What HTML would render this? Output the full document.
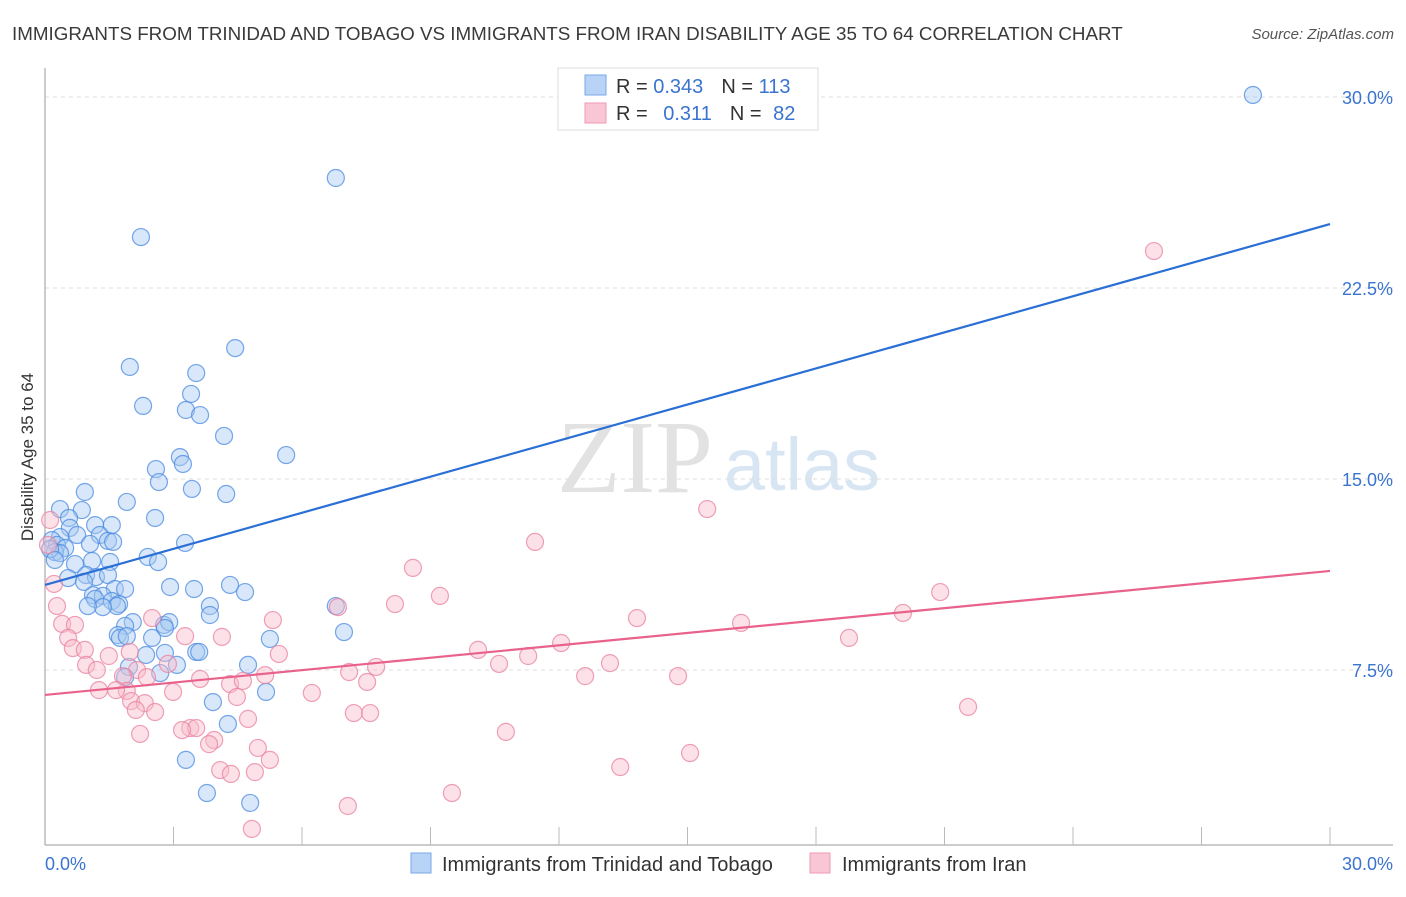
<!DOCTYPE html>
<html><head><meta charset="utf-8"><style>
body{margin:0;background:#fff;font-family:"Liberation Sans",sans-serif;}
</style></head><body>
<svg id="chart" width="1406" height="892" viewBox="0 0 1406 892" xmlns="http://www.w3.org/2000/svg" font-family="Liberation Sans, sans-serif">
<text x="12" y="40" font-size="18.8" fill="#3a3a3a">IMMIGRANTS FROM TRINIDAD AND TOBAGO VS IMMIGRANTS FROM IRAN DISABILITY AGE 35 TO 64 CORRELATION CHART</text>
<text x="1394" y="39" font-size="15" fill="#555" font-style="italic" text-anchor="end">Source: ZipAtlas.com</text>
<g>
<text x="635" y="492" font-size="104" font-family="Liberation Serif, serif" fill="#e2e2e2" text-anchor="middle">ZIP</text>
<text x="802" y="490" font-size="74" fill="#d8e6f4" text-anchor="middle">atlas</text>
</g>
<g id="grid"></g>
<g id="axes"></g>
<g id="marks"></g>
<text transform="translate(33,457) rotate(-90)" font-size="17" fill="#333" text-anchor="middle">Disability Age 35 to 64</text>
<g>
<rect x="558" y="68" width="260" height="62" fill="#fff" stroke="#ddd"/>
<rect x="585" y="75" width="21" height="20" fill="#b8d3f5" stroke="#7aaae8"/>
<rect x="585" y="103" width="21" height="20" fill="#f9c6d5" stroke="#ee9ab3"/>
<text x="616" y="93" font-size="20" fill="#333">R = <tspan fill="#3a74cf">0.343</tspan><tspan dx="18">N = </tspan><tspan fill="#3a74cf">113</tspan></text>
<text x="616" y="120" font-size="20" fill="#333">R = <tspan dx="10" fill="#3a74cf">0.311</tspan><tspan dx="18">N = </tspan><tspan dx="6" fill="#3a74cf">82</tspan></text>
</g>
<g>
<rect x="411" y="853" width="20" height="20" fill="#b8d3f5" stroke="#7aaae8"/>
<text x="442" y="871" font-size="20" fill="#333">Immigrants from Trinidad and Tobago</text>
<rect x="810" y="853" width="20" height="20" fill="#f9c6d5" stroke="#ee9ab3"/>
<text x="842" y="871" font-size="20" fill="#333">Immigrants from Iran</text>
</g>
</svg>
<script>
const blueX=[28.20,6.79,2.24,1.98,4.44,3.53,2.29,3.41,3.29,3.62,4.18,3.15,2.59,3.22,2.66,3.43,4.23,5.63,0.93,1.91,0.35,0.86,0.56,2.57,1.17,1.56,0.58,0.35,0.75,1.28,3.27,1.47,1.59,1.05,0.16,0.28,0.47,0.23,0.35,0.12,2.40,2.64,0.70,1.52,1.10,0.23,0.54,0.96,1.19,1.47,0.91,1.63,1.87,1.12,1.35,1.17,2.92,3.48,4.32,4.67,1.56,1.73,1.68,1.35,1.00,3.85,3.85,6.79,2.05,1.87,2.78,2.90,2.80,1.70,1.75,1.91,2.50,3.53,3.60,5.25,6.98,2.80,2.36,1.96,1.87,3.08,4.74,2.69,5.16,3.92,4.27,3.29,3.78,4.79];
const blueY=[30.08,26.82,24.50,19.40,20.14,19.16,17.87,18.34,17.71,17.51,16.69,15.86,15.39,15.59,14.88,14.61,14.41,15.94,14.49,14.10,13.82,13.78,13.47,13.47,13.19,13.19,13.08,12.72,12.80,12.80,12.49,12.57,12.53,12.45,12.60,12.41,12.29,12.13,12.09,12.25,11.94,11.74,11.66,11.74,11.78,11.82,11.11,11.23,11.15,11.23,10.96,10.68,10.68,10.44,10.41,10.29,10.76,10.68,10.84,10.56,10.21,10.09,10.01,9.97,10.01,10.01,9.66,10.01,9.38,9.23,9.27,9.38,9.15,8.87,8.76,8.83,8.76,8.21,8.21,8.72,8.99,8.17,8.09,7.62,7.22,7.70,7.70,7.38,6.64,6.24,5.38,3.97,2.67,2.28];
const pinkX=[25.89,15.46,11.44,8.59,9.22,8.17,5.32,6.84,13.82,16.25,20.90,20.03,18.77,12.05,2.50,3.27,4.13,0.21,0.28,0.40,0.70,0.54,0.65,0.93,0.96,1.21,1.49,1.98,2.15,2.87,1.82,2.38,1.91,1.26,1.66,2.99,3.62,4.32,4.62,5.14,5.46,4.48,6.23,7.10,7.73,7.52,10.11,10.60,11.28,12.61,13.19,14.78,2.01,2.33,2.12,2.57,3.39,3.53,3.20,4.74,7.21,7.59,10.76,3.95,3.83,2.22,4.97,5.25,4.09,4.34,4.90,13.43,15.06,9.50,7.07,4.83,21.55,0.12,0.07];
const pinkY=[23.95,13.82,12.53,11.51,10.41,10.09,9.46,9.97,9.54,9.35,10.56,9.74,8.76,8.56,9.54,8.83,8.80,10.88,10.01,9.31,9.27,8.76,8.36,8.29,7.70,7.50,8.05,8.21,7.50,7.74,7.26,7.22,6.68,6.71,6.71,6.64,7.15,6.95,7.07,7.30,8.13,6.44,6.60,7.42,7.62,7.03,8.29,7.74,8.05,7.26,7.77,7.26,6.28,6.20,5.93,5.85,5.22,5.22,5.14,5.58,5.81,5.81,5.07,4.75,4.59,4.99,4.44,3.97,3.57,3.42,3.49,3.69,4.24,2.67,2.16,1.26,6.05,13.39,12.41];
const blueTrend=[10.84,25.01];
const pinkTrend=[6.52,11.39];
const yTicks=[7.5,15,22.5,30];
const yTickLabels=["7.5%","15.0%","22.5%","30.0%"];
const xTicks=[0,3,6,9,12,15,18,21,24,27,30];

const NS="http://www.w3.org/2000/svg";
const X=v=>45+v*(1285/30);
const Y=v=>861-v*(764/30);
function mk(tag,attrs,parent){const e=document.createElementNS(NS,tag);for(const k in attrs)e.setAttribute(k,attrs[k]);document.getElementById(parent).appendChild(e);return e;}
yTicks.forEach((t,i)=>{
  const g=mk('line',{x1:45,x2:1393,y1:Y(t),y2:Y(t),stroke:'#ddd','stroke-dasharray':'4,4'},'grid');
  
  
  const l=mk('text',{x:1393,y:Y(t)+7,'font-size':18,fill:'#3a74cf','text-anchor':'end'},'axes');
  l.textContent=yTickLabels[i];
  
  
});
const ya=mk('line',{x1:45,x2:45,y1:68,y2:845,stroke:'#bbb','stroke-width':1.5},'axes');


const xa=mk('line',{x1:45,x2:1393,y1:845,y2:845,stroke:'#bbb','stroke-width':1.5},'axes');


xTicks.forEach(t=>{
  const k=mk('line',{x1:X(t),x2:X(t),y1:827,y2:845,stroke:'#bbb'},'axes');
  
  
});
const xl0=mk('text',{x:45,y:870,'font-size':18,fill:'#3a74cf'},'axes');xl0.textContent='0.0%';


const xl1=mk('text',{x:1393,y:870,'font-size':18,fill:'#3a74cf','text-anchor':'end'},'axes');xl1.textContent='30.0%';


function pts(xs,ys,fill,stroke,name){
  xs.forEach((x,i)=>{
    const c=mk('circle',{cx:X(x),cy:Y(ys[i]),r:8.5,fill:fill,'fill-opacity':0.45,stroke:stroke,'stroke-opacity':0.75,'stroke-width':1.2},'marks');
    
    
  });
}
pts(blueX,blueY,'#a9c9f2','#4a8ae0','point-trinidad-tobago');
pts(pinkX,pinkY,'#f8bccd','#e8829f','point-iran');
const bl=mk('line',{x1:X(0),y1:Y(blueTrend[0]),x2:X(30),y2:Y(blueTrend[1]),stroke:'#2a6fd6','stroke-width':2.2},'marks');


const pl=mk('line',{x1:X(0),y1:Y(pinkTrend[0]),x2:X(30),y2:Y(pinkTrend[1]),stroke:'#e8628c','stroke-width':2.2},'marks');


</script>
</body></html>
